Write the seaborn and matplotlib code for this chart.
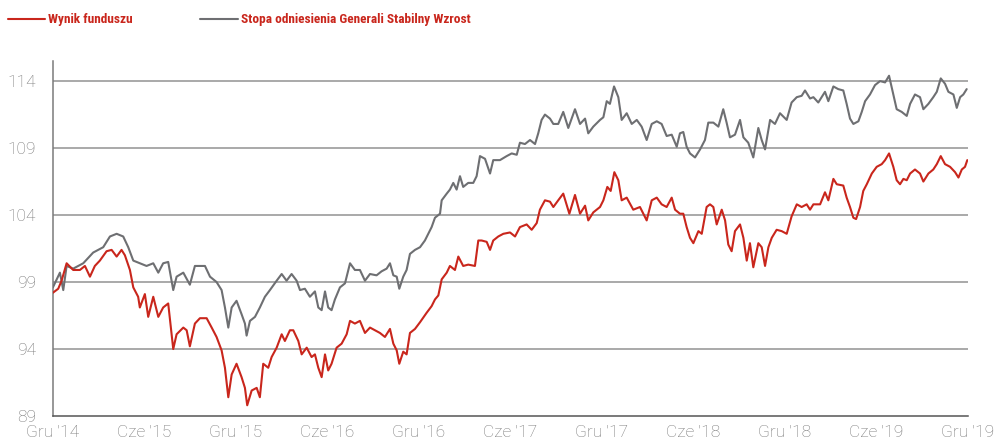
import matplotlib
matplotlib.use("Agg")
import matplotlib.pyplot as plt
from matplotlib import font_manager
from matplotlib.lines import Line2D
import seaborn as sns
import pandas as pd

# Data: months since Dec 2014 and index values
fund_months = [0.00, 0.35, 0.57, 0.90, 1.33, 1.77, 2.10, 2.43, 2.75, 3.08, 3.52, 3.85, 4.18, 4.50, 4.72,
               5.05, 5.27, 5.59, 5.70, 6.03, 6.25, 6.58, 6.91, 7.23, 7.56, 7.78, 7.89, 8.11, 8.55, 8.77,
               8.98, 9.31, 9.64, 10.08, 10.41, 10.73, 11.06, 11.28, 11.50, 11.72, 12.04, 12.37, 12.59,
               12.74, 13.03, 13.36, 13.57, 13.79, 14.12, 14.34, 14.67, 15.00, 15.21, 15.54, 15.76, 16.09,
               16.31, 16.64, 16.96, 17.18, 17.40, 17.62, 17.84, 18.05, 18.27, 18.60, 18.93, 19.26, 19.48,
               19.80, 20.13, 20.46, 20.79, 21.11, 21.44, 21.77, 22.10, 22.32, 22.54, 22.71, 22.97, 23.19,
               23.41, 23.74, 24.07, 24.50, 24.83, 25.05, 25.27, 25.49, 25.82, 26.03, 26.36, 26.58, 26.90,
               27.23, 27.67, 27.89, 28.11, 28.44, 28.66, 28.87, 29.20, 29.53, 29.97, 30.30, 30.62, 31.06,
               31.39, 31.72, 31.93, 32.26, 32.59, 32.81, 33.13, 33.46, 33.86, 34.23, 34.56, 34.89, 35.10,
               35.43, 35.87, 36.09, 36.35, 36.57, 36.81, 37.07, 37.29, 37.62, 38.05, 38.49, 38.93, 39.26,
               39.59, 39.91, 40.24, 40.57, 40.79, 41.11, 41.33, 41.55, 41.77, 41.99, 42.32, 42.54, 42.86,
               43.08, 43.30, 43.52, 43.85, 44.07, 44.28, 44.50, 44.72, 45.05, 45.27, 45.49, 45.70, 45.92,
               46.25, 46.47, 46.69, 46.91, 47.13, 47.45, 47.78, 48.11, 48.43, 48.77, 49.09, 49.42, 49.64,
               49.86, 50.30, 50.62, 50.84, 51.17, 51.39, 51.82, 52.04, 52.26, 52.48, 52.66, 52.92, 53.13,
               53.36, 53.69, 54.01, 54.34, 54.56, 54.82, 55.10, 55.32, 55.54, 55.76, 55.98, 56.20, 56.52,
               56.85, 57.07, 57.40, 57.72, 57.95, 58.21, 58.49, 58.82, 59.15, 59.37, 59.59, 59.80, 59.95]
fund_values = [98.2, 98.5, 99.1, 100.4, 99.9, 99.9, 100.2, 99.4, 100.2, 100.6, 101.3, 101.4, 100.9, 101.4, 101.0,
               99.9, 98.6, 97.9, 97.1, 98.1, 96.4, 97.9, 96.4, 97.1, 97.4, 95.1, 94.0, 95.1, 95.6, 95.4,
               94.2, 95.9, 96.3, 96.3, 95.6, 94.9, 93.9, 92.6, 90.4, 92.1, 92.9, 91.9, 91.1,
               89.8, 90.9, 91.1, 90.4, 92.9, 92.6, 93.4, 94.1, 95.1, 94.6, 95.4, 95.4, 94.6,
               93.6, 94.1, 93.4, 93.6, 92.6, 91.9, 93.6, 92.4, 92.9, 94.1, 94.4, 95.1, 96.1,
               95.9, 96.1, 95.2, 95.6, 95.4, 95.2, 94.9, 95.5, 94.4, 93.9, 92.9, 93.8, 93.6,
               95.2, 95.5, 96.0, 96.7, 97.2, 97.7, 98.0, 99.2, 99.7, 100.2, 99.9, 100.9, 100.2,
               100.3, 100.2, 102.1, 102.1, 102.0, 101.4, 102.1, 102.4, 102.6, 102.7, 102.4, 103.1, 103.3,
               102.9, 103.4, 104.4, 105.1, 105.0, 104.6, 105.1, 105.6, 104.1, 105.5, 104.1, 104.7, 103.6,
               104.2, 104.6, 105.1, 106.1, 105.8, 107.2, 106.6, 105.1, 105.3, 104.4, 104.6, 103.6, 105.1,
               105.3, 104.8, 104.6, 105.3, 104.4, 104.1, 104.1, 103.1, 102.3, 101.9, 102.8, 102.6, 104.6,
               104.8, 104.6, 103.3, 104.4, 103.6, 101.8, 101.3, 102.8, 103.3, 102.3, 100.6, 101.9, 100.1,
               101.9, 101.6, 100.2, 101.6, 102.3, 102.9, 102.8, 102.6, 103.9, 104.8, 104.6, 104.8, 104.4,
               104.8, 104.8, 105.7, 105.1, 106.7, 106.3, 106.2, 105.3, 104.6, 103.8, 103.7, 104.6, 105.8,
               106.3, 107.1, 107.6, 107.8, 108.1, 108.6, 107.6, 106.6, 106.3, 106.7, 106.6, 107.1, 107.4,
               107.1, 106.5, 107.1, 107.4, 107.8, 108.4, 107.8, 107.6, 107.2, 106.8, 107.4, 107.6, 108.1]

bench_months = [0.00, 0.46, 0.68, 0.90, 1.33, 1.99, 2.64, 3.30, 3.74, 4.18, 4.61, 4.94, 5.27, 5.70, 6.14,
                6.58, 6.91, 7.23, 7.56, 7.78, 7.89, 8.11, 8.55, 8.98, 9.31, 9.64, 9.97, 10.30, 10.73,
                11.06, 11.28, 11.50, 11.72, 12.04, 12.37, 12.59, 12.70, 12.92, 13.25, 13.57, 13.90, 14.23,
                14.67, 15.00, 15.32, 15.65, 15.98, 16.20, 16.52, 16.85, 17.18, 17.40, 17.62, 17.84, 18.05,
                18.27, 18.49, 18.82, 19.15, 19.48, 19.80, 20.13, 20.46, 20.79, 21.22, 21.55, 21.88, 22.10,
                22.32, 22.54, 22.71, 22.97, 23.19, 23.41, 23.74, 24.07, 24.39, 24.61, 24.83, 25.05, 25.38,
                25.49, 25.82, 26.03, 26.25, 26.47, 26.69, 26.90, 27.23, 27.56, 27.78, 28.00, 28.33, 28.66,
                28.87, 29.31, 29.75, 30.08, 30.41, 30.62, 30.95, 31.28, 31.61, 31.82, 32.04, 32.26, 32.59,
                32.81, 33.13, 33.46, 33.79, 34.23, 34.56, 34.89, 35.10, 35.43, 35.87, 36.09, 36.31, 36.52,
                36.79, 37.07, 37.29, 37.62, 37.95, 38.28, 38.60, 38.93, 39.26, 39.59, 39.91, 40.24, 40.57,
                40.90, 41.11, 41.33, 41.55, 41.77, 42.10, 42.43, 42.75, 42.97, 43.30, 43.63, 43.95, 44.17,
                44.39, 44.72, 45.05, 45.27, 45.59, 45.92, 46.25, 46.47, 46.69, 47.02, 47.34, 47.67, 48.11,
                48.43, 48.77, 49.09, 49.31, 49.64, 49.86, 50.18, 50.62, 50.84, 51.17, 51.49, 51.82, 52.04,
                52.26, 52.48, 52.81, 53.03, 53.25, 53.57, 53.90, 54.23, 54.56, 54.82, 55.10, 55.32, 55.65,
                55.98, 56.20, 56.52, 56.85, 57.07, 57.40, 57.72, 57.95, 58.21, 58.49, 58.71, 59.04, 59.26,
                59.48, 59.69, 59.91]
bench_values = [98.6, 99.7, 98.4, 100.2, 100.0, 100.4, 101.2, 101.6, 102.4, 102.6, 102.4, 101.6, 100.6, 100.4, 100.2,
                100.4, 99.7, 100.4, 100.5, 99.1, 98.4, 99.4, 99.7, 98.8, 100.2, 100.2, 100.2, 99.4, 99.0,
                98.4, 97.1, 95.6, 97.1, 97.6, 96.6, 95.9, 95.0, 96.1, 96.4, 97.1, 97.9, 98.4,
                99.1, 99.6, 99.1, 99.6, 99.1, 98.4, 98.5, 97.9, 98.3, 97.1, 96.9, 98.3, 97.1,
                96.9, 97.7, 98.6, 98.9, 100.4, 99.9, 99.9, 99.1, 99.6, 99.5, 99.8, 100.0, 100.4,
                99.5, 99.4, 98.5, 99.4, 99.9, 101.1, 101.4, 101.6, 102.1, 102.6, 103.1, 103.8, 104.1,
                105.1, 105.6, 105.9, 106.4, 105.9, 106.9, 106.1, 106.4, 106.4, 106.9, 108.4, 108.2, 107.1,
                108.1, 108.1, 108.4, 108.6, 108.5, 109.4, 109.3, 109.6, 109.3, 110.1, 111.1, 111.5, 111.2,
                110.8, 110.8, 111.7, 110.5, 111.9, 110.8, 111.2, 110.1, 110.6, 111.1, 111.3, 112.5, 112.3,
                113.6, 112.8, 111.1, 111.6, 110.8, 111.1, 110.6, 109.6, 110.8, 111.0, 110.8, 109.9, 110.0,
                109.1, 110.1, 110.2, 109.1, 108.6, 108.3, 108.9, 109.6, 110.9, 110.9, 110.6, 111.9, 110.9,
                109.8, 110.0, 111.1, 109.8, 109.4, 108.3, 110.5, 109.6, 108.9, 111.1, 110.8, 111.6, 111.1,
                112.4, 112.8, 112.9, 113.3, 112.7, 112.8, 112.4, 113.2, 112.5, 113.6, 113.4, 113.3, 112.3,
                111.2, 110.8, 111.0, 111.7, 112.5, 113.0, 113.7, 114.0, 113.9, 114.4, 113.0, 111.9, 111.7,
                111.4, 112.3, 113.0, 112.8, 111.9, 112.3, 112.8, 113.2, 114.2, 113.8, 113.2, 113.0, 112.0,
                112.8, 113.0, 113.4]

series_names = ["Wynik funduszu", "Stopa odniesienia Generali Stabilny Wzrost"]
tick_months = [0, 6, 12, 18, 24, 30, 36, 42, 48, 54, 60]
tick_labels = ["Gru '14", "Cze '15", "Gru '15", "Cze '16", "Gru '16", "Cze '17",
               "Gru '17", "Cze '18", "Gru '18", "Cze '19", "Gru '19"]
y_ticks = [89, 94, 99, 104, 109, 114]

df = pd.concat([
    pd.DataFrame({"month": bench_months, "value": bench_values, "series": series_names[1]}),
    pd.DataFrame({"month": fund_months, "value": fund_values, "series": series_names[0]}),
])

red = "#c9261c"
grey = "#6e6f72"
palette = {series_names[0]: red, series_names[1]: grey}

# look for a condensed bold face for the legend labels
fonts = font_manager.fontManager.ttflist
names = {f.name for f in fonts}
cond = [f for f in fonts if f.stretch in ("condensed", "semi-condensed", "extra-condensed")
        and f.name in ("Noto Sans", "Open Sans", "Roboto", "Roboto Condensed", "Liberation Sans Narrow",
                       "Open Sans Condensed", "DejaVu Sans")]
if "Liberation Sans Narrow" in names:
    leg_font = dict(family="Liberation Sans Narrow", size=9.6)
elif "Roboto Condensed" in names:
    leg_font = dict(family="Roboto Condensed", size=9.6)
elif cond:
    leg_font = dict(family=cond[0].name, stretch="condensed", size=9.6)
else:
    leg_font = dict(family="Liberation Sans", size=8.3)

sns.set_style("white")
plt.rcParams["font.family"] = ["Roboto", "DejaVu Sans"]

fig = plt.figure(figsize=(9.98, 4.41), dpi=100)
ax = fig.add_axes([0.053, 0.0567, 0.917, 0.805])

for y in y_ticks[1:]:
    ax.axhline(y, color="#a3a3a3", lw=1.3, zorder=1)

sns.lineplot(data=df, x="month", y="value", hue="series", palette=palette,
             estimator=None, sort=False, lw=1.5, legend=False, ax=ax, zorder=3)

ax.set_xlim(0, 60)
ax.set_ylim(89, 115.5)
ax.set_xticks(tick_months)
ax.set_xticklabels(tick_labels)
ax.set_yticks(y_ticks)
ax.set_xlabel("")
ax.set_ylabel("")
ax.tick_params(axis="both", colors="#444444", labelcolor="#777777", labelsize=12.5,
               length=5, width=1, direction="out")
ax.tick_params(axis="y", pad=7)
ax.tick_params(axis="x", pad=1.5)
for lab in ax.get_xticklabels() + ax.get_yticklabels():
    lab.set_fontweight("light")
for s in ["top", "right"]:
    ax.spines[s].set_visible(False)
ax.spines["left"].set_color("#7a7a7a")
ax.spines["bottom"].set_color("#555555")
for s in ["left", "bottom"]:
    ax.spines[s].set_linewidth(1.1)

# legend drawn by hand to keep the wide gap of the original
W, H = 998, 441
ly = 1 - 19 / H
for (x0, x1, tx), name, col in zip([(8, 45, 48), (200, 238, 241)], series_names, [red, grey]):
    fig.add_artist(Line2D([x0 / W, x1 / W], [ly, ly], color=col, lw=1.5, transform=fig.transFigure))
    fig.text(tx / W, ly, name, color=red, fontweight="bold", va="center", ha="left", **leg_font)

fig.savefig("out.png", dpi=100)
